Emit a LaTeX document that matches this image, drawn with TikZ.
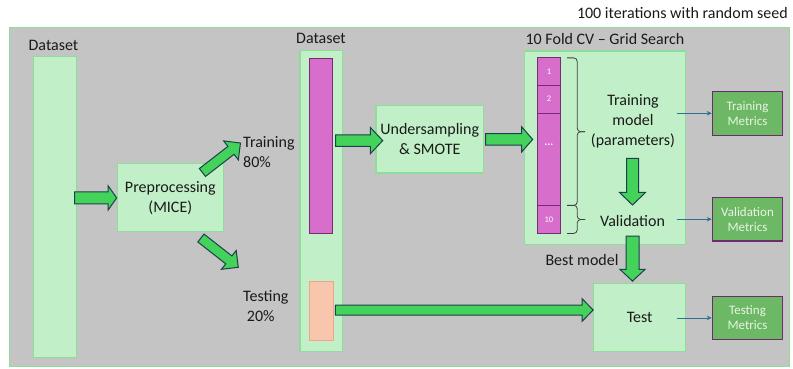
\documentclass[tikz,border=0pt]{standalone}
\usepackage{fontspec}
\setmainfont{Carlito}
\usetikzlibrary{calc,arrows.meta}

\definecolor{panelgray}{HTML}{C4C4C4}
\definecolor{boxfill}{HTML}{C1F0C8}
\definecolor{boxline}{HTML}{8EDD98}
\definecolor{arrowfill}{HTML}{43D35A}
\definecolor{arrowline}{HTML}{1E3F4C}
\definecolor{foldfill}{HTML}{D86ECC}
\definecolor{foldline}{HTML}{7A2A74}
\definecolor{testfill}{HTML}{F7C6AC}
\definecolor{testline}{HTML}{F2A583}
\definecolor{metricfill}{HTML}{6CB864}
\definecolor{metricline}{HTML}{6E2A6E}
\definecolor{metrictext}{HTML}{E8F4E4}
\definecolor{linkblue}{HTML}{2F6F8F}
\definecolor{bracegray}{HTML}{404040}
\definecolor{textdark}{HTML}{1A1A1A}

% block arrow between two points: from, to, shaft half width, head half width, head length (pt)
\newcommand\fatarrow[5]{%
  \draw[blockarrow] let \p1=(#1), \p2=(#2),
      \n1={atan2(\y2-\y1,\x2-\x1)}, \n2={veclen(\x2-\x1,\y2-\y1)}, \n3={\n2-#5pt} in
    [shift={(\p1)}, rotate={\n1}]
    (0pt,-#3pt) -- (\n3,-#3pt) -- (\n3,-#4pt) -- (\n2,0pt) --
    (\n3,#4pt) -- (\n3,#3pt) -- (0pt,#3pt) -- cycle;}

% right-opening curly brace: top point, bottom point, tip y (pt)
\newcommand\foldbrace[3]{%
  \draw[bracestyle] let \p1=(#1), \p2=(#2) in
    (\x1,\y1) -- (\x1+10pt,\y1) -- (\x1+10pt,#3) -- (\x1+18pt,#3);
  \draw[bracestyle] let \p1=(#1), \p2=(#2) in
    (\x1+18pt,#3) -- (\x1+10pt,#3) -- (\x1+10pt,\y2) -- (\x1,\y2);}

\begin{document}
\begin{tikzpicture}[x=1pt,y=-1pt, inner sep=0pt, text=textdark,
  font=\fontsize{16}{20}\selectfont,
  gbox/.style={draw=boxline, fill=boxfill, line width=1.2pt},
  fold/.style={draw=foldline, fill=foldfill, line width=0.9pt, minimum width=23.7,
    text=white, font=\fontsize{8.5}{10}\selectfont},
  metric/.style={draw=metricline, fill=metricfill, line width=1.1pt, minimum width=70.4,
    minimum height=43.5, align=center, text=metrictext, font=\fontsize{13}{15}\selectfont},
  blockarrow/.style={fill=arrowfill, draw=arrowline, line width=1pt, line join=miter},
  link/.style={draw=linkblue, line width=0.7pt, -{Stealth[length=5pt,width=4.5pt]}},
  bracestyle/.style={draw=bracegray, line width=0.8pt, rounded corners=3.5pt}]

\useasboundingbox (0,0) rectangle (793,368);

% outer panel
\node[draw=boxline, fill=panelgray, line width=1pt, minimum width=780,
  minimum height=339] (frame) at (399,196.5) {};
\node[anchor=east] (iter) at (788,13) {100 iterations with random seed};

% raw dataset and preprocessing
\node (lab1) at (53.5,45) {Dataset};
\node[gbox, minimum width=43.4, minimum height=301] (ds1) at (55,207.2) {};
\node[gbox, minimum width=106, minimum height=68, align=center] (pre) at (170.3,197.6)
  {Preprocessing\\(MICE)};
\node[align=left, anchor=west] (trlab) at (243,152) {Training\\80\%};
\node[align=left, anchor=west] (tslab) at (243,306) {Testing\\\hspace*{3.7pt}20\%};

% split dataset
\node (lab2) at (321,38) {Dataset};
\node[gbox, minimum width=42.3, minimum height=301] (ds2) at (321.2,201.2) {};
\node[draw=foldline, fill=foldfill, line width=0.9pt, minimum width=23.3,
  minimum height=175.3] (mag) at (320.7,145.7) {};
\node[draw=testline, fill=testfill, line width=0.9pt, minimum width=24,
  minimum height=58.3] (ora) at (321,310.9) {};

% resampling
\node[gbox, minimum width=107.3, minimum height=67.3, align=center] (und) at (429.7,139.4)
  {Undersampling\\\& SMOTE};

% cross-validation block
\node (cvlab) at (605,39) {10 Fold CV – Grid Search};
\node[gbox, minimum width=161.4, minimum height=193.3] (cv) at (605,147.7) {};
\node[fold, minimum height=27.3] (f1) at (548.9,71.35) {1};
\node[fold, minimum height=28.3] (f2) at (548.9,99.15) {2};
\node[fold, minimum height=92.4] (f3) at (548.9,159.5) {};
\node[text=white, font=\fontsize{11}{12}\bfseries] (dots) at (548.9,145) {...};
\node[fold, minimum height=27.6] (f4) at (548.9,219.5) {10};
\foldbrace{$(f1.north east)+(6,0.6)$}{$(f3.south east)+(6,-0.7)$}{131.7}
\foldbrace{$(f4.north east)+(6,0)$}{$(f4.south east)+(6,-0.3)$}{219.5}
\node[align=center] (trm) at (633,121) {Training\\model\\(parameters)};
\node (val) at (632.5,220.5) {Validation};
\node (best) at (582,259.5) {Best model};

% final test
\node[gbox, minimum width=92, minimum height=68] (test) at (639.7,317.7) {Test};

% metrics
\node[metric] (tm) at (747.5,113.3) {Training\\Metrics};
\node[metric] (vm) at (747.5,219.2) {Validation\\Metrics};
\node[metric] (sm) at (747.5,317.9) {Testing\\Metrics};

% block arrows
\fatarrow{$(ds1.east |- pre.west)+(-2.7,0.3)$}{$(pre.west)+(0,0.3)$}{6}{12}{8.5}
\fatarrow{$(pre.north east)+(-21.5,9.5)$}{$(trlab.west)+(-2.5,-9)$}{5}{12}{12}
\fatarrow{$(pre.south east)+(-23,5.8)$}{$(tslab.west)+(-4.7,-38.7)$}{5}{12}{12}
\fatarrow{$(mag.east |- und.west)+(2.7,1.2)$}{$(und.west)+(7.3,1.2)$}{5.8}{13}{12.3}
\fatarrow{$(und.east)+(1.7,0)$}{$(cv.west |- und.east)+(9,0)$}{5.8}{12.5}{11}
\fatarrow{$(trm.center)+(-0.5,37.3)$}{$(val.center)+(0,-15.5)$}{6}{13.2}{12.7}
\fatarrow{$(val.center)+(0,15.5)$}{$(val.center |- test.north)+(0,-2)$}{6.5}{12.5}{11.7}
\fatarrow{$(ora.east)+(2,-0.9)$}{$(test.west |- ora.east)+(0,-0.9)$}{5}{11.3}{11}

% metric links
\draw[link] ($(cv.east |- tm.west)+(-9,0)$) -- (tm.west);
\draw[link] ($(cv.east |- vm.west)+(-9,0)$) -- (vm.west);
\draw[link] ($(test.east |- sm.west)+(-9,0)$) -- (sm.west);
\end{tikzpicture}
\end{document}
